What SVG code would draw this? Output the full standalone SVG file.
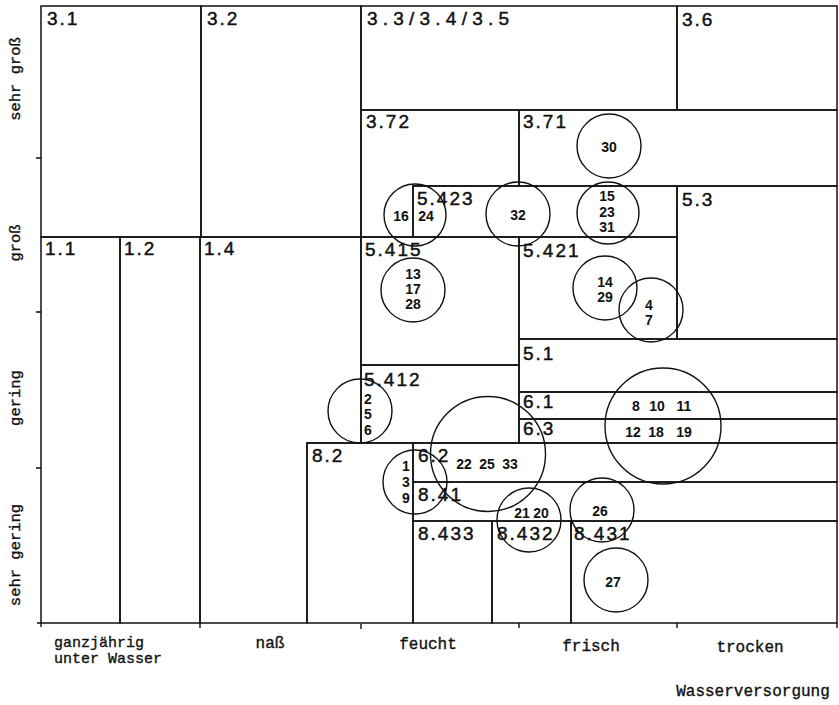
<svg xmlns="http://www.w3.org/2000/svg" width="839" height="705" viewBox="0 0 839 705">
<style>
.b{fill:none;stroke:#111;stroke-width:1.5}
.c{fill:none;stroke:#111;stroke-width:1.4}
.t{stroke:#111;stroke-width:1.4}
.l{font-family:"Liberation Sans",Arial,sans-serif;font-size:19px;letter-spacing:2px;fill:#111;stroke:#111;stroke-width:0.45}
.n{font-family:"Liberation Sans Narrow","Liberation Sans",Arial,sans-serif;font-size:14px;font-weight:bold;fill:#111;text-anchor:middle}
.a{font-family:"Liberation Mono","Courier New",monospace;font-size:15.5px;fill:#111;stroke:#111;stroke-width:0.35}
</style>
<rect width="839" height="705" fill="#fff"/>
<g id="n3_1"><rect class="b" x="41" y="6" width="160" height="231"/><text class="l" x="47" y="25">3.1</text></g>
<g id="n3_2"><rect class="b" x="201" y="6" width="160" height="231"/><text class="l" x="207" y="25">3.2</text></g>
<g id="n3_3"><rect class="b" x="361" y="6" width="316" height="104"/><text class="l" x="367" y="25" textLength="144" lengthAdjust="spacing">3.3/3.4/3.5</text></g>
<g id="n3_6"><rect class="b" x="677" y="6" width="160" height="104"/><text class="l" x="682" y="26">3.6</text></g>
<g id="n3_72"><path class="b" d="M361,110 H519 V186 H413 V237 H361 Z"/><text class="l" x="366" y="128">3.72</text></g>
<g id="n3_71"><rect class="b" x="519" y="110" width="318" height="76"/><text class="l" x="523" y="128">3.71</text></g>
<g id="n5_423"><rect class="b" x="413" y="186" width="264" height="51"/><text class="l" x="417" y="205">5.423</text></g>
<g id="n5_3"><rect class="b" x="677" y="186" width="160" height="153"/><text class="l" x="682" y="206">5.3</text></g>
<g id="n1_1"><rect class="b" x="41" y="237" width="79" height="386"/><text class="l" x="45" y="255">1.1</text></g>
<g id="n1_2"><rect class="b" x="120" y="237" width="80" height="386"/><text class="l" x="124" y="255">1.2</text></g>
<g id="n1_4"><path class="b" d="M200,237 H361 V443 H307 V623 H200 Z"/><text class="l" x="204" y="255">1.4</text></g>
<g id="n5_415"><rect class="b" x="361" y="237" width="158" height="128"/><text class="l" x="365" y="256">5.415</text></g>
<g id="n5_421"><rect class="b" x="519" y="237" width="158" height="102"/><text class="l" x="523" y="257">5.421</text></g>
<g id="n5_1"><rect class="b" x="519" y="339" width="318" height="53"/><text class="l" x="523" y="360">5.1</text></g>
<g id="n5_412"><rect class="b" x="361" y="365" width="158" height="78"/><text class="l" x="364" y="386">5.412</text></g>
<g id="n6_1"><rect class="b" x="519" y="392" width="318" height="27"/><text class="l" x="523" y="408">6.1</text></g>
<g id="n6_3"><rect class="b" x="519" y="419" width="318" height="24"/><text class="l" x="523" y="435">6.3</text></g>
<g id="n8_2"><rect class="b" x="307" y="443" width="106" height="180"/><text class="l" x="312" y="462">8.2</text></g>
<g id="n6_2"><rect class="b" x="413" y="443" width="424" height="39"/><text class="l" x="418" y="462">6.2</text></g>
<g id="n8_41"><rect class="b" x="413" y="482" width="424" height="39"/><text class="l" x="418" y="501">8.41</text></g>
<g id="n8_433"><rect class="b" x="413" y="521" width="79" height="102"/><text class="l" x="418" y="540">8.433</text></g>
<g id="n8_432"><rect class="b" x="492" y="521" width="79" height="102"/><text class="l" x="497" y="540">8.432</text></g>
<g id="n8_431"><rect class="b" x="571" y="521" width="266" height="102"/><text class="l" x="574" y="540">8.431</text></g>

<g id="c16_24"><circle class="c" cx="415" cy="215" r="31"/><text class="n" x="401" y="221">16</text><text class="n" x="426" y="221">24</text></g>
<g id="c32"><circle class="c" cx="518" cy="214" r="32"/><text class="n" x="518" y="220">32</text></g>
<g id="c30"><circle class="c" cx="609" cy="146" r="32"/><text class="n" x="609" y="152">30</text></g>
<g id="c15_23_31"><circle class="c" cx="608" cy="213" r="31"/><text class="n" x="607" y="201">15</text><text class="n" x="607" y="217">23</text><text class="n" x="607" y="232">31</text></g>
<g id="c13_17_28"><circle class="c" cx="413" cy="290" r="32"/><text class="n" x="413" y="279">13</text><text class="n" x="413" y="294">17</text><text class="n" x="413" y="309">28</text></g>
<g id="c14_29"><circle class="c" cx="605" cy="288" r="32"/><text class="n" x="605" y="287">14</text><text class="n" x="605" y="302">29</text></g>
<g id="c4_7"><circle class="c" cx="651" cy="310" r="32"/><text class="n" x="649" y="310">4</text><text class="n" x="649" y="325">7</text></g>
<g id="c2_5_6"><circle class="c" cx="360" cy="411" r="32"/><text class="n" x="368" y="404">2</text><text class="n" x="368" y="419">5</text><text class="n" x="368" y="435">6</text></g>
<g id="c8_19"><circle class="c" cx="663" cy="426" r="58"/><text class="n" x="636" y="411">8</text><text class="n" x="657" y="411">10</text><text class="n" x="684" y="411">11</text><text class="n" x="633" y="437">12</text><text class="n" x="656" y="437">18</text><text class="n" x="684" y="437">19</text></g>
<g id="c22_25_33"><circle class="c" cx="488" cy="454" r="57.5"/><text class="n" x="464" y="469">22</text><text class="n" x="487" y="469">25</text><text class="n" x="510" y="469">33</text></g>
<g id="c1_3_9"><circle class="c" cx="415" cy="482" r="32"/><text class="n" x="406" y="471">1</text><text class="n" x="406" y="487">3</text><text class="n" x="406" y="503">9</text></g>
<g id="c21_20"><circle class="c" cx="529" cy="520" r="32"/><text class="n" x="522" y="518">21</text><text class="n" x="541" y="518">20</text></g>
<g id="c26"><circle class="c" cx="602" cy="510" r="32"/><text class="n" x="600" y="516">26</text></g>
<g id="c27"><circle class="c" cx="616" cy="580" r="32"/><text class="n" x="613" y="587">27</text></g>

<g id="axes">
<path class="t" d="M36,158 H41 M36,312 H41 M36,468 H41 M37,623 H41 M41,623 V627 M200,623 V628 M361,624 V629 M519,623 V628 M677,623 V628 M837,623 V628"/>
<text class="a" text-anchor="middle" transform="translate(20,79) rotate(-90)">sehr groß</text>
<text class="a" text-anchor="middle" transform="translate(20,243) rotate(-90)">groß</text>
<text class="a" text-anchor="middle" transform="translate(20,398) rotate(-90)">gering</text>
<text class="a" text-anchor="middle" transform="translate(20,555) rotate(-90)">sehr gering</text>
<text class="a" x="54" y="647" style="font-size:15px">ganzjährig</text>
<text class="a" x="54" y="663" style="font-size:15px">unter Wasser</text>
<text class="a" x="270" y="648" text-anchor="middle" style="font-size:16px">naß</text>
<text class="a" x="428" y="649" text-anchor="middle" style="font-size:16px">feucht</text>
<text class="a" x="591" y="651" text-anchor="middle" style="font-size:16px">frisch</text>
<text class="a" x="750" y="652" text-anchor="middle" style="font-size:16px">trocken</text>
<text class="a" x="753" y="696" text-anchor="middle" style="font-size:16px">Wasserversorgung</text>
</g>
</svg>
